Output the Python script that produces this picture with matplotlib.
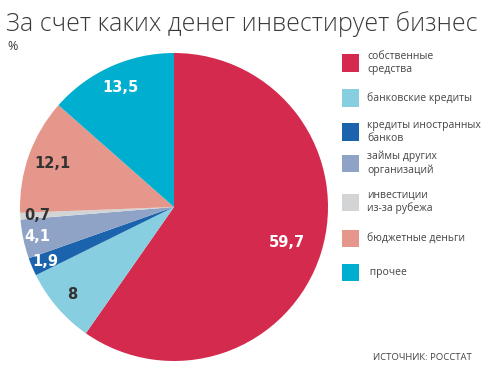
import numpy as np
import matplotlib.pyplot as plt
from matplotlib.patches import Rectangle

# data
categories = ["собственные\nсредства", "банковские кредиты", "кредиты иностранных\nбанков",
              "займы других\nорганизаций", "инвестиции\nиз-за рубежа", "бюджетные деньги", " прочее"]
values = [59.7, 8, 1.9, 4.1, 0.7, 12.1, 13.5]
value_labels = ["59,7", "8", "1,9", "4,1", "0,7", "12,1", "13,5"]
colors = ["#D42A4E", "#86CEE0", "#1B64AD", "#8FA3C7", "#D3D4D6", "#E6978B", "#00AECF"]
label_colors = ["white", "#333333", "white", "white", "#333333", "#333333", "white"]
label_radius = [0.77, 0.87, 0.91, 0.91, 0.89, 0.84, 0.85]

W, H = 490, 380
fig = plt.figure(figsize=(W / 100, H / 100), dpi=100)
light = ["Open Sans", "DejaVu Sans"]

# pie centre (174, 207) px, radius 154 px
cx, cy, r = 174, 207, 154
ax = fig.add_axes([(cx - r) / W, (H - cy - r) / H, 2 * r / W, 2 * r / H])
wedges, _ = ax.pie(values, colors=colors, startangle=90, counterclock=False,
                   radius=1, wedgeprops=dict(linewidth=0))
ax.set_xlim(-1, 1)
ax.set_ylim(-1, 1)
ax.set_aspect("equal")
ax.axis("off")

for w, txt, c, rr in zip(wedges, value_labels, label_colors, label_radius):
    ang = np.deg2rad((w.theta1 + w.theta2) / 2)
    ax.text(rr * np.cos(ang), rr * np.sin(ang), txt, ha="center", va="center",
            fontsize=10.5, fontweight="bold", color=c, family="DejaVu Sans")

# title
fig.text(6 / W, 1 - 24 / H, "За счет каких денег инвестирует бизнес", fontsize=18,
         family=light, fontweight="light", color="#3a3a3a", va="center", ha="left")
fig.text(7 / W, 1 - 47 / H, "%", fontsize=9, family=light, color="#3a3a3a", va="center")

# legend
leg_y = [63, 98, 132, 163, 202, 238, 272]
for y, lab, col in zip(leg_y, categories, colors):
    fig.add_artist(Rectangle((342 / W, 1 - (y + 8.5) / H), 17 / W, 17 / H,
                             transform=fig.transFigure, color=col, lw=0))
    fig.text(367 / W, 1 - y / H, lab, fontsize=7.5, family=light, color="#444444",
             va="center", ha="left", linespacing=1.25)

fig.text(472 / W, 1 - 357 / H, "ИСТОЧНИК: РОССТАТ", fontsize=6.8, family=light,
         color="#444444", va="center", ha="right")

fig.savefig("out.png", dpi=100, facecolor="white")
